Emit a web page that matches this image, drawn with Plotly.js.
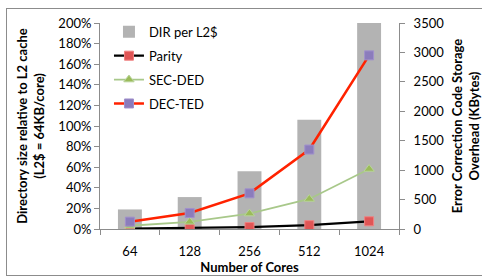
<!DOCTYPE html>
<html><head><meta charset="utf-8">
<script src="https://cdn.plot.ly/plotly-3.0.1.min.js"></script>
<style>
html,body{margin:0;padding:0;background:#fff;}
#frame{position:absolute;left:6px;top:8px;width:490px;height:268px;border:1px solid #8c8c8c;box-sizing:border-box;pointer-events:none;z-index:10;}
#chart{position:absolute;left:0;top:0;width:482px;height:278px;}
</style>
</head><body>
<div id="chart"></div><div id="frame"></div>
<script>
const cores = ['64', '128', '256', '512', '1024'];
const dirPerL2 = [0.19, 0.31, 0.56, 1.06, 2.00];
const parity = [8, 16, 33, 65, 131];
const secded = [55, 122, 262, 510, 1020];
const dected = [125, 272, 606, 1350, 2950];

const font = 'Lato, Carlito, "Liberation Sans", sans-serif';
const traces = [
  {type:'bar', name:'DIR per L2$', x:cores, y:dirPerL2, yaxis:'y', marker:{color:'#b3b3b3'}, width:0.4, legendgroup:'a'},
  {type:'scatter', mode:'lines+markers', name:'Parity', x:cores, y:parity, yaxis:'y2',
   line:{color:'#000000', width:2.2}, marker:{symbol:'square', size:9, color:'#e05555', line:{color:'#f08080', width:1}}, legendgroup:'b'},
  {type:'scatter', mode:'lines+markers', name:'SEC-DED', x:cores, y:secded, yaxis:'y2',
   line:{color:'#a8c88a', width:1.8}, marker:{symbol:'triangle-up', size:9, color:'#9bbb59', line:{color:'#b8d49a', width:1}}, legendgroup:'c'},
  {type:'scatter', mode:'lines+markers', name:'DEC-TED', x:cores, y:dected, yaxis:'y2',
   line:{color:'#ff2200', width:2.5}, marker:{symbol:'square', size:9, color:'#8b7cbc', line:{color:'#a090cc', width:1}}, legendgroup:'d'}
];
const layout = {
  width:482, height:278,
  margin:{l:100, r:83, t:23, b:49},
  paper_bgcolor:'#fff', plot_bgcolor:'#fff',
  font:{family:font, size:13, color:'#000'},
  showlegend:true,
  legend:{x:0.03, y:1.03, xanchor:'left', yanchor:'top', bgcolor:'rgba(0,0,0,0)', tracegroupgap:4, font:{size:13}, traceorder:'grouped', itemwidth:30},
  bargap:0.6,
  xaxis:{type:'category', showline:true, linecolor:'#8c8c8c', ticks:'outside', tickson:'boundaries', ticklen:5, tickcolor:'#8c8c8c',
    showgrid:false, tickfont:{size:13}, ticklabelstandoff:10, title:{text:'<b>Number of Cores</b>', font:{size:13}, standoff:3}},
  yaxis:{range:[0,2], dtick:0.2, tickformat:'.0%', showline:true, linecolor:'#8c8c8c', ticks:'outside', ticklen:5, tickcolor:'#8c8c8c',
    showgrid:false, zeroline:false, tickfont:{size:13},
    title:{text:'<b>Directory size relative to L2 cache<br>(L2$ = 64KB/core)</b>', font:{size:13}, standoff:10}},
  yaxis2:{overlaying:'y', side:'right', range:[0,3500], dtick:500, showline:true, linecolor:'#8c8c8c', ticks:'outside', ticklen:5, tickcolor:'#8c8c8c',
    showgrid:false, zeroline:false, tickfont:{size:13}, ticklabelstandoff:6,
    title:{text:'<b>Error Correction Code Storage<br>Overhead (KBytes)</b>', font:{size:13}, standoff:12}}
};
Plotly.newPlot('chart', traces, layout, {displayModeBar:false, staticPlot:true});
</script>
</body></html>
